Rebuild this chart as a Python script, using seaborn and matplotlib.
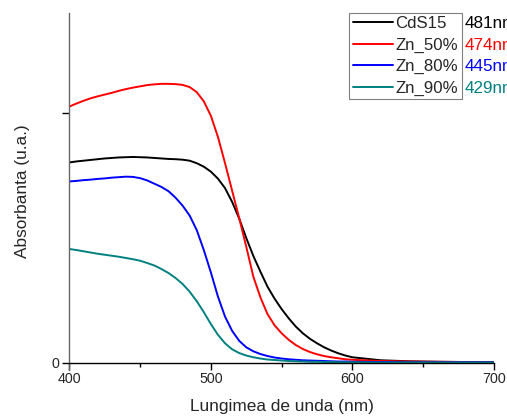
import numpy as np
import pandas as pd
import matplotlib
matplotlib.use("Agg")
import matplotlib.pyplot as plt
import seaborn as sns
from matplotlib.ticker import FixedLocator

sns.set_style("white")
plt.rcParams["font.family"] = ["Liberation Sans", "DejaVu Sans"]

# Absorption spectra (arbitrary units) vs wavelength in nm
wavelength = [400, 405, 410, 415, 420, 425, 430, 435, 440, 445, 450, 455,
              460, 465, 470, 475, 480, 485, 490, 495, 500, 505, 510, 515,
              520, 525, 530, 535, 540, 545, 550, 555, 560, 565, 570, 575,
              580, 585, 590, 595, 600, 620, 640, 660, 680, 700]

cds15 = [0.803, 0.807, 0.810, 0.813, 0.816, 0.819, 0.821, 0.823, 0.824, 0.825,
         0.824, 0.823, 0.821, 0.819, 0.817, 0.816, 0.814, 0.810, 0.800, 0.786,
         0.766, 0.738, 0.700, 0.645, 0.578, 0.500, 0.428, 0.365, 0.305, 0.257,
         0.215, 0.178, 0.145, 0.118, 0.096, 0.078, 0.062, 0.049, 0.038, 0.029,
         0.022, 0.010, 0.006, 0.004, 0.003, 0.003]

zn50 = [1.027, 1.039, 1.050, 1.060, 1.068, 1.075, 1.082, 1.090, 1.097, 1.103,
        1.108, 1.113, 1.116, 1.118, 1.118, 1.117, 1.114, 1.105, 1.085, 1.048,
        0.990, 0.905, 0.800, 0.690, 0.580, 0.465, 0.345, 0.262, 0.195, 0.150,
        0.118, 0.092, 0.071, 0.055, 0.043, 0.034, 0.027, 0.022, 0.018, 0.014,
        0.012, 0.007, 0.005, 0.004, 0.003, 0.002]

zn80 = [0.727, 0.729, 0.732, 0.734, 0.737, 0.739, 0.742, 0.744, 0.746, 0.745,
        0.740, 0.731, 0.718, 0.705, 0.688, 0.662, 0.630, 0.590, 0.532, 0.452,
        0.362, 0.265, 0.185, 0.128, 0.088, 0.062, 0.046, 0.035, 0.027, 0.021,
        0.017, 0.014, 0.012, 0.010, 0.009, 0.008, 0.007, 0.006, 0.005, 0.005,
        0.004, 0.003, 0.002, 0.002, 0.002, 0.002]

zn90 = [0.456, 0.452, 0.447, 0.442, 0.437, 0.433, 0.429, 0.425, 0.420, 0.415,
        0.409, 0.400, 0.390, 0.376, 0.360, 0.340, 0.316, 0.285, 0.247, 0.203,
        0.155, 0.112, 0.078, 0.054, 0.039, 0.029, 0.022, 0.017, 0.013, 0.011,
        0.009, 0.007, 0.006, 0.005, 0.004, 0.004, 0.003, 0.003, 0.002, 0.002,
        0.002, 0.001, 0.001, 0.001, 0.001, 0.001]

samples = ["CdS15", "Zn_50%", "Zn_80%", "Zn_90%"]
edges = ["481nm", "474nm", "445nm", "429nm"]
colors = ["#000000", "#ff0000", "#0000ff", "#008080"]

series = [cds15, zn50, zn80, zn90]
df = pd.concat(
    [pd.DataFrame({"wl": wavelength, "abs": vals, "sample": name})
     for name, vals in zip(samples, series)],
    ignore_index=True,
)

fig = plt.figure(figsize=(5.07, 4.17), dpi=100)
ax = fig.add_axes([0.1367, 0.1127, 0.8377, 0.8561])

sns.lineplot(data=df, x="wl", y="abs", hue="sample", hue_order=samples,
             palette=dict(zip(samples, colors)), linewidth=1.4, sort=False,
             ax=ax, legend=True)
for line in ax.get_lines():
    line.set_solid_joinstyle("round")

ax.set_xlim(400, 700)
ax.set_ylim(-0.029, 1.402)

for side in ("top", "right"):
    ax.spines[side].set_visible(False)
ax.spines["bottom"].set_position(("data", 0))
ax.spines["bottom"].set_color("black")
ax.spines["bottom"].set_linewidth(1.0)
ax.spines["left"].set_color("#666666")
ax.spines["left"].set_linewidth(1.0)

ax.set_xticks([400, 500, 600, 700])
ax.xaxis.set_minor_locator(FixedLocator([450, 550, 650]))
ax.set_yticks([0, 1])
ax.set_yticklabels(["0", ""])
ax.tick_params(axis="both", which="major", direction="out", length=5,
               width=1, labelsize=10.3, pad=2, color="black",
               bottom=True, left=True)
ax.tick_params(axis="x", which="minor", direction="out", length=3,
               width=1, bottom=True, color="black")

ax.set_xlabel("Lungimea de unda (nm)", fontsize=12.4)
ax.set_ylabel("Absorbanta (u.a.)", fontsize=12.4)
ax.xaxis.set_label_coords(0.5, -0.08)
ax.yaxis.set_label_coords(-0.092, 0.5)

handles, labels = ax.get_legend_handles_labels()
leg = ax.legend(handles, labels, loc="upper left",
                bbox_to_anchor=(349.3 / 507, 1 - 12.7 / 417),
                bbox_transform=fig.transFigure, borderaxespad=0,
                fontsize=12.1, frameon=True, fancybox=False, framealpha=1,
                edgecolor="#808080", borderpad=0.2, handlelength=2.4,
                handletextpad=0.15, labelspacing=0.38)
leg.get_frame().set_linewidth(0.8)

# band-edge wavelengths written next to each legend entry
fig.canvas.draw()
renderer = fig.canvas.get_renderer()
for txt, edge, col in zip(leg.get_texts(), edges, colors):
    bb = txt.get_window_extent(renderer)
    yc = (bb.y0 + bb.y1) / 2 / fig.bbox.height
    fig.text(465 / 507, yc, edge, color=col, fontsize=12.3,
             va="center", ha="left")

fig.savefig("out.png", dpi=100)
